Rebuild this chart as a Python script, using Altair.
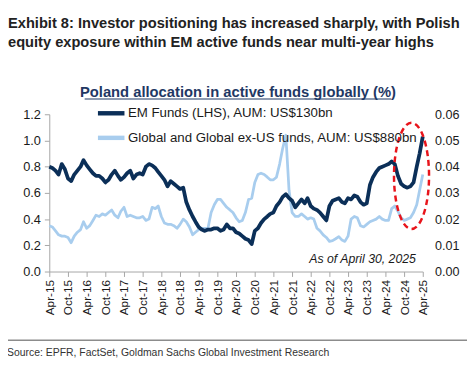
import altair as alt
import pandas as pd

# ---- data ----
start_month = "2015-04-01"
em_funds = [
    0.80, 0.79, 0.77, 0.74, 0.82, 0.78, 0.71, 0.69, 0.74, 0.77, 0.80, 0.85,
    0.81, 0.78, 0.75, 0.73, 0.73, 0.71, 0.68, 0.70, 0.74, 0.77, 0.73, 0.70,
    0.72, 0.75, 0.77, 0.71, 0.74, 0.75, 0.74, 0.80, 0.82, 0.81, 0.79, 0.76,
    0.73, 0.70, 0.65, 0.69, 0.67, 0.65, 0.63, 0.64, 0.53, 0.47, 0.42, 0.38,
    0.34, 0.32, 0.31, 0.32, 0.32, 0.33, 0.33, 0.31, 0.32, 0.36, 0.33, 0.33,
    0.30, 0.29, 0.27, 0.25, 0.24, 0.21, 0.31, 0.33, 0.37, 0.40, 0.42, 0.44,
    0.45, 0.50, 0.53, 0.57, 0.59, 0.56, 0.54, 0.49, 0.52, 0.55, 0.52, 0.56,
    0.50, 0.48, 0.47, 0.45, 0.42, 0.39, 0.50, 0.54, 0.55, 0.56, 0.53, 0.52,
    0.56, 0.55, 0.58, 0.57, 0.53, 0.51, 0.52, 0.66, 0.72, 0.76, 0.79, 0.80,
    0.81, 0.82, 0.84, 0.82, 0.73, 0.67, 0.65, 0.64, 0.65, 0.68, 0.80, 0.90, 1.03,
]
global_funds = [
    0.0175, 0.0170, 0.0155, 0.0140, 0.0135, 0.0135, 0.0130, 0.0110, 0.0135, 0.0150, 0.0160, 0.0190,
    0.0165, 0.0175, 0.0195, 0.0215, 0.0210, 0.0220, 0.0215, 0.0225, 0.0235, 0.0215, 0.0205, 0.0230,
    0.0245, 0.0210, 0.0215, 0.0210, 0.0205, 0.0205, 0.0210, 0.0195, 0.0200, 0.0245, 0.0240, 0.0250,
    0.0210, 0.0185, 0.0180, 0.0180, 0.0175, 0.0165, 0.0180, 0.0200, 0.0190, 0.0170, 0.0140, 0.0150,
    0.0160, 0.0165, 0.0165, 0.0165, 0.0225, 0.0255, 0.0275, 0.0275, 0.0260, 0.0245, 0.0235, 0.0225,
    0.0205, 0.0190, 0.0195, 0.0225, 0.0275, 0.0280, 0.0340, 0.0370, 0.0375, 0.0370, 0.0360, 0.0350,
    0.0350, 0.0360, 0.0410, 0.0470, 0.0520, 0.0310, 0.0225, 0.0210, 0.0210, 0.0220, 0.0210, 0.0200,
    0.0205, 0.0200, 0.0165, 0.0155, 0.0140, 0.0130, 0.0115, 0.0118, 0.0125, 0.0133, 0.0120, 0.0115,
    0.0135, 0.0200, 0.0210, 0.0205, 0.0175, 0.0170, 0.0180, 0.0190, 0.0195, 0.0200, 0.0210, 0.0200,
    0.0195, 0.0195, 0.0240, 0.0250, 0.0230, 0.0205, 0.0195, 0.0200, 0.0205, 0.0225, 0.0255, 0.0310, 0.0370,
]
series_names = ["EM Funds (LHS), AUM: US$130bn",
                "Global and Global ex-US funds, AUM: US$880bn"]
series_colors = ["#0b2f58", "#a8cdee"]
left_ticks = [0.0, 0.2, 0.4, 0.6, 0.8, 1.0, 1.2]
right_ticks = [0.00, 0.01, 0.02, 0.03, 0.04, 0.05, 0.06]
tick_months = [(y, m) for y in range(2015, 2026) for m in (4, 10) if (y, m) <= (2025, 4)]
highlight = {"date": "2024-12-12", "value": 0.73}

title_lines = ["Exhibit 8: Investor positioning has increased sharply, with Polish",
               "equity exposure within EM active funds near multi-year highs"]
subtitle = "Poland allocation in active funds globally (%)"
as_of = "As of April 30, 2025"
source = "Source: EPFR, FactSet, Goldman Sachs Global Investment Research"

# ---- tables ----
dates_em = pd.date_range(start_month, periods=len(em_funds), freq="MS")
dates_gl = pd.date_range(start_month, periods=len(global_funds), freq="MS")
df_em = pd.DataFrame({"date": dates_em, "value": em_funds, "series": series_names[0]})
df_gl = pd.DataFrame({"date": dates_gl, "value": global_funds, "series": series_names[1]})
df_hl = pd.DataFrame({"date": [pd.Timestamp(highlight["date"])], "value": [highlight["value"]]})

NAVY = "#1f3864"
TXT = "#1a1a1a"
GRID = "#a6a6a6"
SANS = "Liberation Sans"

x_dom = [alt.DateTime(year=2015, month=4, date=1), alt.DateTime(year=2025, month=4, date=1)]
x_vals = [alt.DateTime(year=y, month=m, date=1) for (y, m) in tick_months]

color = alt.Color(
    "series:N",
    scale=alt.Scale(domain=series_names, range=series_colors),
    legend=alt.Legend(
        title=None, orient="none", legendX=47, legendY=-17, direction="vertical",
        symbolType="stroke", symbolSize=729, symbolStrokeWidth=4.5,
        labelFont=SANS, labelFontSize=13.5, labelColor=TXT, labelOffset=1,
        rowPadding=-7, padding=0, labelLimit=400,
    ),
)

x_axis = alt.Axis(values=x_vals, tickCount=len(x_vals), format="%b-%y", labelAngle=-90,
                  labelFont=SANS, labelFontSize=12, labelColor=TXT, labelPadding=3,
                  tickSize=5, tickColor=GRID, domainColor=GRID, grid=False, title=None,
                  labelOverlap=False)
x_enc = alt.X("date:T", scale=alt.Scale(domain=x_dom), axis=x_axis)

left_axis = alt.Axis(values=left_ticks, tickCount=len(left_ticks), format=".1f",
                     labelFont=SANS, labelFontSize=13, labelColor=TXT, tickSize=5,
                     tickColor=GRID, domainColor=GRID, grid=False, title=None,
                     labelPadding=4, labelOverlap=False)
left_scale = alt.Scale(domain=[0, 1.2])

em_line = alt.Chart(df_em).mark_line(strokeWidth=3.8, strokeJoin="round").encode(
    x=x_enc,
    y=alt.Y("value:Q", scale=left_scale, axis=left_axis),
    color=color,
)

ellipse = alt.Chart(df_hl).mark_point(
    shape="M -0.33 0 A 0.33 1 0 1 0 0.33 0 A 0.33 1 0 1 0 -0.33 0 Z",
    size=11664, filled=False, stroke="#e8141b", strokeWidth=2.5, strokeDash=[6, 4], opacity=1,
).encode(x=x_enc, y=alt.Y("value:Q", scale=left_scale, axis=left_axis))

gl_line = alt.Chart(df_gl).mark_line(strokeWidth=2.8, strokeJoin="round").encode(
    x=x_enc,
    y=alt.Y("value:Q", scale=alt.Scale(domain=[0, 0.06]),
            axis=alt.Axis(orient="right", values=right_ticks, tickCount=len(right_ticks),
                          format=".2f", labelFont=SANS, labelFontSize=12.8, labelColor=TXT,
                          ticks=False, domain=False, grid=False, title=None,
                          labelPadding=12, labelOverlap=False)),
    color=color,
)


def text_mark(text, x, y, **kw):
    return alt.Chart(pd.DataFrame({"t": [text]})).mark_text(**kw).encode(
        text="t:N", x=alt.value(x), y=alt.value(y))


def rule_mark(x1, x2, y, **kw):
    return alt.Chart(pd.DataFrame({"r": [0]})).mark_rule(**kw).encode(
        x=alt.value(x1), x2=alt.value(x2), y=alt.value(y))


annotations = [
    text_mark(title_lines[0], -42, -88, font=SANS, fontSize=14.9, fontWeight="bold",
              color="#222222", align="left", baseline="alphabetic"),
    text_mark(title_lines[1], -42, -68.5, font=SANS, fontSize=14.9, fontWeight="bold",
              color="#222222", align="left", baseline="alphabetic"),
    text_mark(subtitle, 192, -18, font=SANS, fontSize=15, fontWeight="bold",
              color=NAVY, align="center", baseline="alphabetic"),
    rule_mark(36, 348, -15.5, color=NAVY, strokeWidth=1.2),
    text_mark(as_of, 373, 151, font=SANS, fontSize=12.5, fontStyle="italic",
              color=TXT, align="right", baseline="alphabetic"),
    rule_mark(-45, 425, 230, color="#8c8c8c", strokeWidth=1.5),
    text_mark(source, -43, 246, font=SANS, fontSize=10.6, color="#333333",
              align="left", baseline="alphabetic"),
]

left_layer = alt.layer(em_line, ellipse)
chart = alt.layer(gl_line, left_layer, *annotations).resolve_scale(y="independent").properties(
    width=380, height=160,
    autosize=alt.AutoSizeParams(type="none"),
    padding={"left": 42, "top": 105, "right": 45, "bottom": 93},
).configure_view(stroke=None)

chart.save("out.html", embed_options={"renderer": "svg", "actions": False})
